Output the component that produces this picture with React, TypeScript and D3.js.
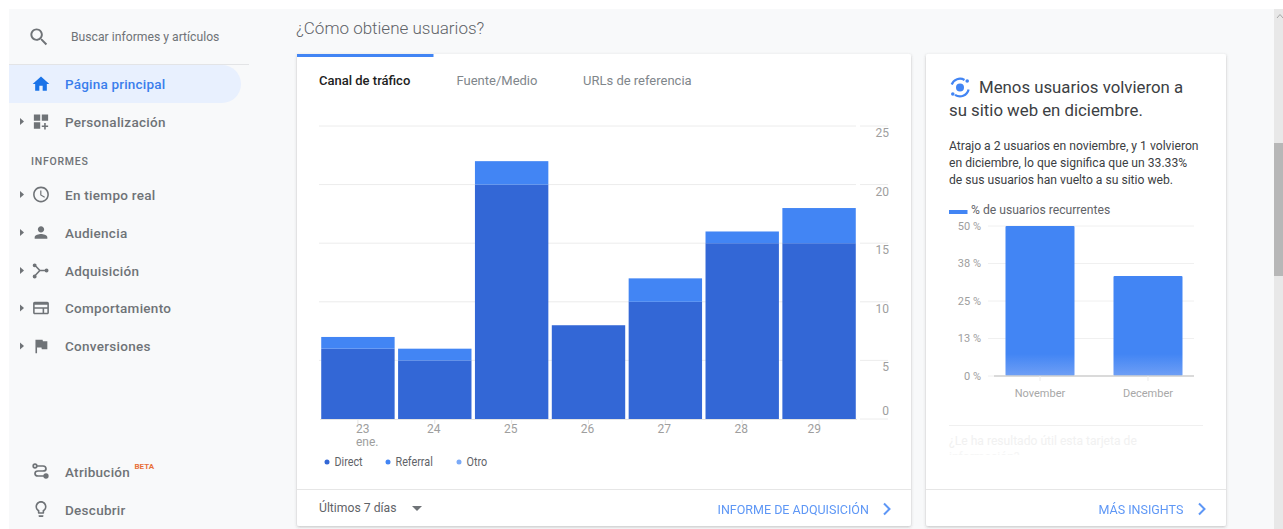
import React from "react";
import * as d3 from "d3";

const days = ["23", "24", "25", "26", "27", "28", "29"];
const direct = [6, 5, 20, 8, 10, 15, 15];
const referral = [1, 1, 2, 0, 2, 1, 3];
const otro = [0, 0, 0, 0, 0, 0, 0];
const usersTicks = [0, 5, 10, 15, 20, 25];
const legendItems = ["Direct", "Referral", "Otro"];
const months = ["November", "December"];
const returning = [50, 33.33];
const returningTicks = [0, 12.5, 25, 37.5, 50];
const returningTickLabels = ["0 %", "13 %", "25 %", "38 %", "50 %"];

const FONT = "Roboto, sans-serif";
const DARK = "#3367d6";
const BLUE = "#4285f4";
const LIGHT = "#7baaf7";
const GREY = "#5f6368";
const NAV_GREY = "#6f7377";

const ICONS: Record<string, string> = {
  search: "M15.5 14h-.79l-.28-.27C15.41 12.59 16 11.11 16 9.5 16 5.91 13.09 3 9.5 3S3 5.91 3 9.5 5.91 16 9.5 16c1.61 0 3.09-.59 4.23-1.57l.27.28v.79l5 4.99L20.49 19l-4.99-5zm-6 0C7.01 14 5 11.99 5 9.5S7.01 5 9.5 5 14 7.01 14 9.5 11.99 14 9.5 14z",
  home: "M10 20v-6h4v6h5v-8h3L12 3 2 12h3v8z",
  custom: "M3 3h8v8H3zM13 3h8v8h-8zM3 13h8v8H3zM16 14h2v3h3v2h-3v3h-2v-3h-3v-2h3z",
  clock: "M11.99 2C6.47 2 2 6.48 2 12s4.47 10 9.99 10C17.52 22 22 17.52 22 12S17.52 2 11.99 2zM12 20c-4.42 0-8-3.58-8-8s3.58-8 8-8 8 3.58 8 8-3.58 8-8 8zm.5-13H11v6l5.25 3.15.75-1.23-4.5-2.67z",
  person: "M12 12c2.21 0 4-1.79 4-4s-1.79-4-4-4-4 1.79-4 4 1.79 4 4 4zm0 2c-2.67 0-8 1.34-8 4v2h16v-2c0-2.66-5.33-4-8-4z",
  merge: "M4 3a2.5 2.5 0 1 1 0 5 2.5 2.5 0 0 1 0-5zM4 17a2.5 2.5 0 1 1 0 5 2.5 2.5 0 0 1 0-5zM19 9.5a2.5 2.5 0 1 1 0 5 2.5 2.5 0 0 1 0-5zM5 4.6l6 6.4h8v2h-8l-6 6.4-1.4-1.4 5.6-6-5.6-6z",
  behavior: "M20 4H4c-1.1 0-2 .9-2 2v12c0 1.1.9 2 2 2h16c1.1 0 2-.9 2-2V6c0-1.1-.9-2-2-2zM4 18v-5h10v5H4zm16 0h-4v-5h4v5zm0-7H4V8h16v3z",
  flag: "M14.4 6L14 4H5v17h2v-7h5.6l.4 2h7V6z",
  bulb: "M9 21c0 .55.45 1 1 1h4c.55 0 1-.45 1-1v-1H9v1zm3-19C8.14 2 5 5.14 5 9c0 2.38 1.19 4.47 3 5.74V17c0 .55.45 1 1 1h6c.55 0 1-.45 1-1v-2.26c1.81-1.27 3-3.36 3-5.74 0-3.86-3.14-7-7-7zm2.85 11.1l-.85.6V16h-4v-2.3l-.85-.6C7.8 12.16 7 10.63 7 9c0-2.76 2.24-5 5-5s5 2.24 5 5c0 1.63-.8 3.16-2.15 4.1z",
};

const navItems = [
  { label: "Personalización", icon: "custom", y: 121.5 },
  { label: "En tiempo real", icon: "clock", y: 194.5 },
  { label: "Audiencia", icon: "person", y: 232.5 },
  { label: "Adquisición", icon: "merge", y: 270.5 },
  { label: "Comportamiento", icon: "behavior", y: 308 },
  { label: "Conversiones", icon: "flag", y: 346 },
];

function Icon({ name, cx, cy, size, fill }: { name: string; cx: number; cy: number; size: number; fill: string }) {
  const s = size / 24;
  return <path d={ICONS[name]} fill={fill} transform={`translate(${cx - size / 2},${cy - size / 2}) scale(${s})`} />;
}

function Label(props: React.SVGProps<SVGTextElement>) {
  return <text fontFamily={FONT} dominantBaseline="central" {...props} />;
}

function Chevron({ x, y }: { x: number; y: number }) {
  return <path d={`M${x},${y - 5.5}L${x + 5.5},${y}L${x},${y + 5.5}`} fill="none" stroke={BLUE} strokeWidth={2} opacity={0.85} />;
}

function Sidebar() {
  return (
    <g>
      <Icon name="search" cx={39} cy={37} size={23} fill={NAV_GREY} />
      <Label x={71} y={36.5} fontSize={12.2} fill={NAV_GREY}>Buscar informes y artículos</Label>
      <line x1={9} x2={249} y1={64.5} y2={64.5} stroke="#e3e4e6" />
      <path d="M9,65H222a19,19 0 0 1 0,38H9Z" fill="#e8f0fe" />
      <Icon name="home" cx={41} cy={84} size={20} fill="#1a73e8" />
      <Label x={65} y={84} fontSize={13.5} fontWeight={500} fill="#3a7eec" letterSpacing={0.2}>Página principal</Label>
      <Label x={31} y={161} fontSize={10.5} fontWeight={500} fill={NAV_GREY} letterSpacing={0.75}>INFORMES</Label>
      {navItems.map((d) => (
        <g key={d.label}>
          <path d={`M20,${d.y - 3.5}L24,${d.y}L20,${d.y + 3.5}Z`} fill={NAV_GREY} />
          <Icon name={d.icon} cx={41} cy={d.y} size={19} fill={NAV_GREY} />
          <Label x={65} y={d.y} fontSize={13.5} fontWeight={500} fill={NAV_GREY} letterSpacing={0.28}>{d.label}</Label>
        </g>
      ))}
      <g fill="none" stroke={NAV_GREY} strokeWidth={1.7}>
        <circle cx={35} cy={466} r={1.8} />
        <circle cx={46} cy={476} r={1.8} fill={NAV_GREY} />
        <path d="M37,466H43Q46,466 46,469Q46,471 43,471H38Q35,471 35,473.5Q35,476 38,476H44" />
      </g>
      <Label x={65} y={471.5} fontSize={13.5} fontWeight={500} fill={NAV_GREY} letterSpacing={0.28}>Atribución</Label>
      <Label x={134.5} y={466} fontSize={8} fontWeight={700} fill="#e8703a">BETA</Label>
      <Icon name="bulb" cx={41} cy={509} size={19} fill={NAV_GREY} />
      <Label x={65} y={509.5} fontSize={13.5} fontWeight={500} fill={NAV_GREY} letterSpacing={0.28}>Descubrir</Label>
    </g>
  );
}

function Card({ x, width }: { x: number; width: number }) {
  return (
    <g>
      <rect x={x} y={54} width={width} height={472} rx={2} fill="#fff" filter="url(#cardShadow)" />
      <line x1={x} x2={x + width} y1={489.5} y2={489.5} stroke="#e6e6e6" />
    </g>
  );
}

function TrafficChart() {
  const rows = days.map((day, i) => ({ day, direct: direct[i], referral: referral[i], otro: otro[i] }));
  const layers = d3.stack<any>().keys(["direct", "referral", "otro"])(rows);
  const x = d3.scaleBand<string>().domain(days).range([319.5, 857.5]).paddingInner(0.045).paddingOuter(0.0225);
  const y = d3.scaleLinear().domain([0, 25]).range([419, 126]);
  const colors = [DARK, BLUE, LIGHT];
  const legendX = [327, 388, 459];

  return (
    <g>
      <rect x={297} y={54} width={136.5} height={3} fill={BLUE} />
      <Label x={319} y={80.5} fontSize={13} fontWeight={500} fill="#212121">Canal de tráfico</Label>
      <Label x={456.5} y={80.5} fontSize={13} fill="#80868b">Fuente/Medio</Label>
      <Label x={583} y={80.5} fontSize={13} fill="#80868b">URLs de referencia</Label>

      {usersTicks.map((t) => (
        <g key={t}>
          {t > 0 && <line x1={319} x2={856} y1={y(t)} y2={y(t)} stroke="#ececec" />}
          <line x1={860} x2={888} y1={y(t)} y2={y(t)} stroke="#ececec" />
          {/* the baseline tick sits its label above the rule, the others below */}
          <Label x={889} y={t === 0 ? y(t) - 8 : y(t) + 7} fontSize={12} fill="#9e9e9e" textAnchor="end">{t}</Label>
        </g>
      ))}

      {layers.map((layer, k) =>
        layer.map((d, i) =>
          d[1] > d[0] ? (
            <rect key={`${k}-${i}`} x={x(days[i])} width={x.bandwidth()} y={y(d[1])} height={y(d[0]) - y(d[1])} fill={colors[k]} />
          ) : null,
        ),
      )}
      <line x1={320} x2={857} y1={419.5} y2={419.5} stroke="#e4e4e4" />

      {days.map((day, i) => {
        const cx = (x(day) as number) + x.bandwidth() / 2;
        const first = i === 0;
        const last = i === days.length - 1;
        return (
          <g key={day}>
            <line x1={cx} x2={cx} y1={419} y2={424} stroke="#e4e4e4" />
            <Label
              x={first ? cx - 2 : last ? cx + 2 : cx - 1}
              y={429}
              fontSize={12}
              fill="#9e9e9e"
              textAnchor={first ? "start" : last ? "end" : "middle"}
            >
              {day}
            </Label>
          </g>
        );
      })}
      <Label x={356} y={441.5} fontSize={12} fill="#9e9e9e">ene.</Label>

      {legendItems.map((name, i) => (
        <g key={name}>
          <circle cx={legendX[i]} cy={462} r={2.5} fill={colors[i]} />
          <Label x={legendX[i] + 7.5} y={462} fontSize={12} fill={GREY} transform={`translate(${(legendX[i] + 7.5) * 0.1},0) scale(0.9,1)`}>{name}</Label>
        </g>
      ))}

      <Label x={319} y={508} fontSize={12.2} fill={GREY}>Últimos 7 días</Label>
      <path d="M412,506H422L417,511Z" fill={NAV_GREY} />
      <Label x={717.5} y={509} fontSize={12.5} fill={BLUE} opacity={0.85}>INFORME DE ADQUISICIÓN</Label>
      <Chevron x={884} y={509} />
    </g>
  );
}

function InsightCard() {
  const x = d3.scaleBand<string>().domain(months).range([994, 1194]).paddingInner(0.361).paddingOuter(0.1065);
  const y = d3.scaleLinear().domain([0, 50]).range([376, 226]);

  return (
    <g>
      <g fill="none" stroke={BLUE} strokeWidth={2.2}>
        <path d="M951.7,84.5A8.8,8.8 0 0 1 964.5,80M968.6,89.5A8.8,8.8 0 0 1 955,94.8" />
      </g>
      <circle cx={960} cy={87.5} r={4} fill={BLUE} />
      <circle cx={967.2} cy={81} r={1.8} fill={BLUE} />
      <circle cx={952.8} cy={94} r={1.8} fill={BLUE} />
      <Label x={979} y={87} fontSize={16.8} fill="#3c4043">Menos usuarios volvieron a</Label>
      <Label x={949} y={110} fontSize={16.8} fill="#3c4043">su sitio web en diciembre.</Label>

      <Label x={949} y={146} fontSize={12.15} fill="#3c4043">Atrajo a 2 usuarios en noviembre, y 1 volvieron</Label>
      <Label x={949} y={163} fontSize={12.15} fill="#3c4043">en diciembre, lo que significa que un 33.33%</Label>
      <Label x={949} y={180} fontSize={12.15} fill="#3c4043">de sus usuarios han vuelto a su sitio web.</Label>

      <rect x={949} y={210} width={18.5} height={4} fill={BLUE} />
      <Label x={971} y={210} fontSize={12.15} fill={GREY}>% de usuarios recurrentes</Label>

      {returningTicks.map((t, i) => (
        <g key={t}>
          <line x1={988} x2={1194} y1={y(t)} y2={y(t)} stroke="#f0f0f0" />
          <Label x={981} y={y(t)} fontSize={11} fill="#9e9e9e" textAnchor="end">{returningTickLabels[i]}</Label>
        </g>
      ))}

      {months.map((m, i) => (
        <rect key={m} x={x(m)} y={y(returning[i])} width={x.bandwidth()} height={y(0) - y(returning[i])} rx={1} fill="url(#barFade)" />
      ))}
      <line x1={994} x2={1194} y1={376} y2={376} stroke="#d0d0d0" strokeWidth={1.5} />

      {months.map((m) => {
        const cx = (x(m) as number) + x.bandwidth() / 2;
        return (
          <g key={m}>
            <line x1={cx} x2={cx} y1={376} y2={381} stroke="#ececec" />
            <Label x={cx} y={393} fontSize={11} fill="#a8a8a8" textAnchor="middle">{m}</Label>
          </g>
        );
      })}

      <line x1={949} x2={1203} y1={425.5} y2={425.5} stroke="#f0f0f0" />
      <Label x={949} y={441} fontSize={12.1} fill="#f1f1f1">¿Le ha resultado útil esta tarjeta de</Label>
      <g clipPath="url(#fadeClip)">
        <Label x={949} y={457} fontSize={12.1} fill="#f6f6f6">información?</Label>
      </g>

      <Label x={1098.5} y={509} fontSize={12.5} fill={BLUE} opacity={0.85}>MÁS INSIGHTS</Label>
      <Chevron x={1199} y={509} />
    </g>
  );
}

export default function App() {
  return (
    <svg width={1283} height={529} style={{ position: "fixed", left: 0, top: 0, display: "block", background: "#fff" }}>
      <defs>
        <filter id="cardShadow" x="-5%" y="-5%" width="110%" height="110%">
          <feDropShadow dx={0} dy={1} stdDeviation={1.4} floodColor="#3c4043" floodOpacity={0.3} />
        </filter>
        <linearGradient id="barFade" gradientUnits="userSpaceOnUse" x1={0} x2={0} y1={354} y2={376}>
          <stop offset={0} stopColor={BLUE} />
          <stop offset={1} stopColor="#6f9ff5" />
        </linearGradient>
        <clipPath id="fadeClip">
          <rect x={940} y={449} width={270} height={6} />
        </clipPath>
      </defs>
      <rect x={9} y={9} width={1265} height={520} fill="#f8f9fa" />
      <rect x={1274} y={9} width={9} height={520} fill="#e8e8e8" />
      <rect x={1274} y={143} width={9} height={133} fill="#b7b7b7" />
      <path d="M1277,18L1280,14.5L1283,18" fill="none" stroke="#a8a8a8" strokeWidth={1} />
      <Sidebar />
      <Label x={296} y={27.5} fontSize={17} fontWeight={300} fill={GREY}>¿Cómo obtiene usuarios?</Label>
      <Card x={297} width={614} />
      <Card x={926} width={300} />
      <TrafficChart />
      <InsightCard />
    </svg>
  );
}
